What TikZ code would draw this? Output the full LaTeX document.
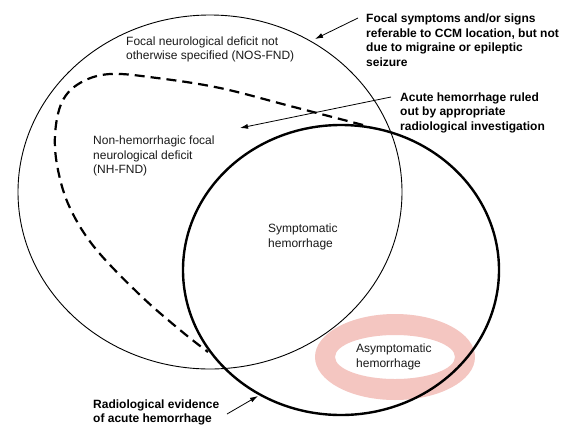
\documentclass[tikz,border=0pt]{standalone}
\usepackage{fontspec}
\setmainfont{Liberation Sans}
\usepackage{xcolor}
\usepackage{tikz}
\usetikzlibrary{arrows.meta}
\definecolor{ink}{HTML}{1A1A1A}
\definecolor{blush}{HTML}{F4C6C1}
\tikzset{
  thinring/.style={draw=black, line width=0.9pt},
  thickring/.style={draw=black, line width=2.4pt},
  dashline/.style={draw=black, line width=2.2pt, dash pattern=on 10pt off 6pt},
  arr/.style={draw=black, line width=0.8pt, -{Latex[length=8pt,width=5pt]}},
  lab/.style={text=ink, anchor=west, align=left, inner sep=0pt,
    font=\fontsize{12}{14.5}\selectfont},
  boldlab/.style={lab, text=black, font=\fontsize{12}{14.5}\selectfont\bfseries},
}

\begin{document}
\begin{tikzpicture}[x=1pt,y=-1pt]
  \useasboundingbox (0,0) rectangle (573,437);
  \fill[white] (0,0) rectangle (573,437);
  % pink ring round the asymptomatic area
  \fill[blush, even odd rule] (395,357) ellipse [x radius=80, y radius=43]
    (395,357) ellipse [x radius=60, y radius=22];
  % the two sets
  \draw[thinring] (210,192) ellipse [x radius=192, y radius=177];
  \draw[thickring] (341,270) ellipse [x radius=158, y radius=145];
  \draw[dashline] plot[smooth, tension=0.6] coordinates {(363,125) (290,106) (220,88)
    (157,78) (110,74) (80,83) (62,102) (55,135) (58,170) (70,208) (95,248)
    (140,295) (180,330) (208,352)};
  % labels
  \node[lab] (nosfnd) at (126,49.5) {Focal neurological deficit not\\otherwise specified (NOS-FND)};
  \node[lab] (nhfnd) at (93,156) {Non-hemorrhagic focal\\neurological deficit\\(NH-FND)};
  \node[lab] (symp) at (268,237) {Symptomatic\\hemorrhage};
  \node[lab] (asymp) at (356,357) {Asymptomatic\\hemorrhage};
  \node[boldlab] (focsym) at (366,40) {Focal symptoms and/or signs\\referable to CCM location, but not\\due to migraine or epileptic\\seizure};
  \node[boldlab] (ruled) at (400,112.5) {Acute hemorrhage ruled\\out by appropriate\\radiological investigation};
  \node[boldlab] (radev) at (93,412.5) {Radiological evidence\\of acute hemorrhage};
  % arrows
  \coordinate (focsymtail) at (358,18);
  \coordinate (focsymhead) at (315,39);
  \coordinate (ruledtail) at (391,97);
  \coordinate (ruledhead) at (240,128);
  \coordinate (radevtail) at (227,414);
  \coordinate (radevhead) at (258,396);
  \draw[arr] (focsymtail) -- (focsymhead);
  \draw[arr] (ruledtail) -- (ruledhead);
  \draw[arr] (radevtail) -- (radevhead);
\end{tikzpicture}
\end{document}
